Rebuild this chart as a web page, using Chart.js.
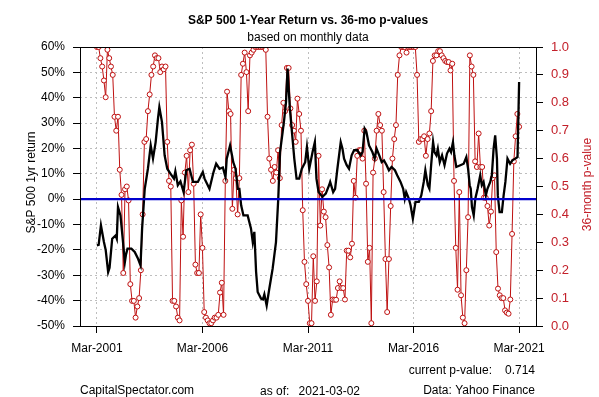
<!DOCTYPE html>
<html>
<head>
<meta charset="utf-8">
<script src="https://cdn.jsdelivr.net/npm/chart.js@4.4.1/dist/chart.umd.min.js"></script>
<style>
html,body{margin:0;padding:0;background:#ffffff;}
#wrap{width:599px;height:397px;position:relative;}
</style>
</head>
<body>
<div id="wrap"><canvas id="c" width="599" height="397"></canvas></div>
<script>
// ---------- text ----------
const titleText = 'S&P 500 1-Year Return vs. 36-mo p-values';
const subtitleText = 'based on monthly data';
const leftAxisTitle = 'S&P 500 1yr return';
const rightAxisTitle = '36-month p-value';
const siteText = 'CapitalSpectator.com';
const asOfLabel = 'as of:';
const asOfDate = '2021-03-02';
const currentPLabel = 'current p-value:';
const currentPValue = '0.714';
const sourceText = 'Data: Yahoo Finance';

// ---------- x axis (months since Mar-2001) ----------
const xTickMonths = [0, 60, 120, 180, 240];
const xTickLabels = ['Mar-2001', 'Mar-2006', 'Mar-2011', 'Mar-2016', 'Mar-2021'];

// ---------- S&P 500 1-year return (%) ----------
const retMonths = [0,1,2.3,4,5,6.4,7.2,8.7,10.6,11.3,12,13.4,14.5,15.9,16.5,17.4,19.6,21.5,23.4,24.8,
  25.7,27.2,29,30.6,31.9,33.4,34.7,35.5,37,38.5,40,41.9,43.8,44.6,46,47.5,49.3,50.8,52.7,54.6,
  57.4,60.2,61.2,64,66.3,67.8,69.7,71.6,73.1,73.8,75.7,76.8,77.5,78.8,80.1,81,82,83.3,85.7,87.6,
  88.6,89.5,90.5,91.4,93.3,94.4,95.2,96.5,98,99.9,101.8,103.1,104.1,105.6,106.5,107.5,108.4,108.9,109.7,110.7,
  112.2,113.5,115,116.5,118.4,119.4,120.7,122.6,123.9,124.8,126,128.2,130.1,132,132.6,134.3,135.4,136.7,138.6,139.6,
  140.5,142,143.3,144.8,146.2,148,150,151,152.2,153.2,154.7,156.6,157.9,159,160.5,161.9,163.2,164.7,166,167.5,
  169.4,170.7,172.6,174.1,175,175.8,177.3,178.3,179.6,181.1,183,184.4,185.8,186.7,188.1,189,190,191.1,191.9,193,
  193.8,194.9,196.2,197.6,199,200.4,201.3,202.4,203.2,204.3,206.6,208.5,210,211,211.9,212.5,213.2,214.2,215.1,216.4,
  217.9,218.8,219.8,221.1,222,223.6,224.5,225.5,226.4,227.4,227.9,228.9,230.2,231.2,232.2,233.4,234.9,236.2,237.8,239.1,
  240];
const retValues = [-18.2,-18,-10.3,-16.9,-20,-28.7,-27,-15.6,-14.3,-15.6,-3.1,-6.4,-14.3,-24.8,-22,-19.5,-19.5,-20.8,-23.5,-26.1,
  -11.6,4.1,12,21.2,16,22.5,31.7,36.3,30.4,17.3,12,10,8.1,11,5.5,7,2.8,11.4,12,6.8,
  6.8,10.7,8.1,4.1,10.7,14,12,12.5,8.7,16,21.2,17.3,14.6,12,4.1,4.1,-2.4,-6.4,-6.4,-11.6,
  -16.9,-12.9,-28.7,-36.6,-39.2,-39.5,-37.5,-41.9,-35.3,-27.4,-16.9,0.2,18.6,26.5,31.7,38.3,51.5,44.9,35.7,27.8,
  16,8.1,8.1,12,14.6,20.6,12,18.6,22.5,8.1,2.8,0.9,2.2,5.5,6.8,2.8,4.1,12,22.5,19.9,
  16,13.4,12,17.3,19.3,19.3,17.3,18.6,27.8,26.5,21.2,18.6,16,19.9,17.3,14.6,15.3,13.4,11.4,12.7,
  11.4,9.4,6.8,4.1,0.2,2.8,0.2,-2.4,-7.7,-1.1,-1.1,1.5,6.8,11.4,5.5,4.1,13.4,22.5,18.6,17.3,
  19.9,14.6,17.3,13.4,18,19.9,18.6,22.5,17.3,12.7,13.4,14,16.6,12,5.5,4.1,-3.1,-6.4,0.2,4.1,
  9.4,5.5,6.8,1.5,4.1,6.8,9.4,19.9,25.2,16,1.5,-5.1,-5.1,1.5,6.8,16,14,15.3,16,16.6,
  46.2];

// ---------- 36-month p-values, monthly from Mar-2001 (index = month) ----------
const pValues = [
  1.0, 1.0, 0.96, 0.93, 0.88, 0.82, 0.99, 0.96, 0.93, 0.90,
  0.75, 0.70, 0.75, 0.56, 0.47, 0.19, 0.49, 0.50, 0.45, 0.15,
  0.09, 0.09, 0.03, 0.07, 0.10, 0.20, 0.40, 0.66, 0.67, 0.77,
  0.83, 0.90, 0.93, 0.97, 0.96, 0.96, 0.91, 0.93, 0.92, 0.93,
  0.66, 0.52, 0.50, 0.09, 0.09, 0.07, 0.03, 0.02, 0.45, 0.32,
  0.55, 0.61, 0.48, 0.63, 0.65, 0.51, 0.22, 0.19, 0.19, 0.40,
  0.28, 0.05, 0.03, 0.02, 0.01, 0.01, 0.02, 0.03, 0.03, 0.04,
  0.12, 0.155, 0.04, 0.52, 0.84, 0.77, 0.76, 0.42, 0.56, 0.53,
  0.40, 0.53, 0.90, 0.94, 0.98, 0.91, 0.77, 0.97, 0.98, 0.99,
  1.0, 1.0, 1.0, 1.0, 1.0, 1.0, 0.99, 0.75, 0.60, 0.56,
  0.52, 0.57, 0.55, 0.63, 0.53, 0.72, 0.80, 0.77, 0.925, 0.925,
  0.78, 0.72, 0.70, 0.66, 0.815, 0.76, 0.70, 0.415, 0.23, 0.15,
  0.09, 0.01, 0.01, 0.25, 0.09, 0.16, 0.61, 0.36, 0.49, 0.41,
  0.39, 0.29, 0.21, 0.04, 0.095, 0.094, 0.094, 0.136, 0.16, 0.136,
  0.136, 0.095, 0.27, 0.27, 0.246, 0.295, 0.52, 0.46, 0.61, 0.63,
  0.63, 0.60, 0.70, 0.51, 0.23, 0.28, 0.01, 0.55, 0.60, 0.70,
  0.76, 0.72, 0.70, 0.48, 0.24, 0.05, 0.24, 0.43, 0.60, 0.67,
  0.72, 0.90, 0.97, 1.0, 1.0, 1.0, 0.98, 1.0, 1.0, 1.0,
  1.0, 1.0, 0.90, 0.66, 0.67, 0.67, 0.68, 0.61, 0.67, 0.69,
  0.77, 0.95, 0.97, 0.97, 0.985, 0.985, 0.97, 0.96, 0.95, 0.946,
  0.946, 0.916, 0.94, 0.52, 0.28, 0.13, 0.48, 0.11, 0.03, 0.01,
  0.20, 0.39, 0.97, 0.93, 0.90, 0.59, 0.57, 0.69, 0.57, 0.57,
  0.46, 0.46, 0.43, 0.36, 0.41, 0.53, 0.54, 0.265, 0.134, 0.11,
  0.10, 0.10, 0.056, 0.048, 0.044, 0.095, 0.33, 0.59, 0.68, 0.76,
  0.714];

const zeroLineValue = 0;

// ---------- styling ----------
const FONT = '"Liberation Sans", Arial, Helvetica, sans-serif';
const RED = '#BE1010';
const RED_TEXT = '#C3202A';
Chart.defaults.font.family = FONT;
Chart.defaults.font.size = 12;
Chart.defaults.color = '#000';

const gridCommon = {
  color: '#BEBEBE',
  lineWidth: 1,
  tickLength: 7,
  tickColor: '#000',
  tickWidth: 1,
  tickBorderDash: []
};

const decorPlugin = {
  id: 'decor',
  afterDatasetsDraw(chart) {
    const c = chart.ctx, a = chart.chartArea;
    const y0 = chart.scales.y.getPixelForValue(zeroLineValue);
    c.save();
    c.setLineDash([]);
    c.strokeStyle = '#0000CD';
    c.lineWidth = 2.2;
    c.beginPath();
    c.moveTo(a.left, y0);
    c.lineTo(a.right, y0);
    c.stroke();
    c.restore();
  },
  afterDraw(chart) {
    const c = chart.ctx, a = chart.chartArea;
    c.save();
    c.setLineDash([]);
    c.strokeStyle = '#000';
    c.lineWidth = 1;
    c.strokeRect(Math.round(a.left) + 0.5, Math.round(a.top) + 0.5,
                 Math.round(a.right) - Math.round(a.left), Math.round(a.bottom) - Math.round(a.top));
    const cx = (a.left + a.right) / 2;
    c.fillStyle = '#000';
    c.textAlign = 'center';
    c.textBaseline = 'alphabetic';
    c.font = 'bold 12px ' + FONT;
    c.fillText(titleText, cx, 24);
    c.font = '12px ' + FONT;
    c.fillText(subtitleText, cx, 40.5);

    // axis titles
    const cy = (a.top + a.bottom) / 2;
    c.save();
    c.translate(32, cy - 4);
    c.rotate(-Math.PI / 2);
    c.textBaseline = 'middle';
    c.textAlign = 'center';
    c.fillStyle = '#000';
    c.fillText(leftAxisTitle, 0, 0);
    c.restore();
    c.save();
    c.translate(588, cy - 2);
    c.rotate(-Math.PI / 2);
    c.textBaseline = 'middle';
    c.textAlign = 'center';
    c.fillStyle = RED_TEXT;
    c.fillText(rightAxisTitle, 0, 0);
    c.restore();

    // footer
    c.fillStyle = '#000';
    c.textAlign = 'left';
    c.fillText(siteText, a.left, 393.5);
    c.fillText(asOfLabel, 260, 394.5);
    c.textAlign = 'right';
    c.fillText(asOfDate, 360, 394.5);
    c.fillText(currentPLabel, 492, 373.5);
    c.fillText(currentPValue, 535, 373.5);
    c.fillText(sourceText, 535, 393.5);
    c.restore();
  }
};

new Chart(document.getElementById('c'), {
  type: 'line',
  data: {
    datasets: [
      {
        label: rightAxisTitle,
        data: pValues.map((v, i) => ({ x: i, y: v })),
        yAxisID: 'y2',
        borderColor: RED,
        borderWidth: 1,
        pointRadius: 2.5,
        pointBorderWidth: 1,
        pointBorderColor: RED,
        pointBackgroundColor: '#FFFFFF',
        tension: 0,
        order: 2
      },
      {
        label: leftAxisTitle,
        data: retMonths.map((m, i) => ({ x: m, y: retValues[i] })),
        yAxisID: 'y',
        borderColor: '#000000',
        borderWidth: 2.3,
        pointRadius: 0,
        tension: 0,
        order: 1
      }
    ]
  },
  options: {
    responsive: false,
    animation: false,
    devicePixelRatio: 1,
    layout: { padding: { top: 47, left: 0, right: 0, bottom: 0 } },
    plugins: {
      legend: { display: false },
      title: { display: false },
      tooltip: { enabled: false }
    },
    scales: {
      x: {
        type: 'linear',
        min: -9.6,
        max: 249.6,
        afterBuildTicks: (s) => { s.ticks = xTickMonths.map(v => ({ value: v })); },
        afterFit: (s) => { s.height = 71; },
        ticks: {
          autoSkip: false,
          maxRotation: 0,
          padding: 8,
          color: '#000',
          font: { size: 12 },
          callback: (v) => xTickLabels[xTickMonths.indexOf(v)]
        },
        grid: Object.assign({}, gridCommon),
        border: { display: false, dash: [2, 3] }
      },
      y: {
        position: 'left',
        min: -50,
        max: 60,
        afterFit: (s) => { s.width = 80; },
        ticks: {
          stepSize: 10,
          padding: 8,
          color: '#000',
          font: { size: 12 },
          callback: (v) => v + '%'
        },
        grid: Object.assign({}, gridCommon),
        border: { display: false, dash: [2, 3] }
      },
      y2: {
        position: 'right',
        min: 0,
        max: 1,
        afterFit: (s) => { s.width = 63; },
        ticks: {
          stepSize: 0.1,
          padding: 8,
          color: RED_TEXT,
          font: { size: 13 },
          callback: (v) => Number(v).toFixed(1)
        },
        grid: Object.assign({}, gridCommon, { drawOnChartArea: false }),
        border: { display: false }
      }
    }
  },
  plugins: [decorPlugin]
});
</script>
</body>
</html>
